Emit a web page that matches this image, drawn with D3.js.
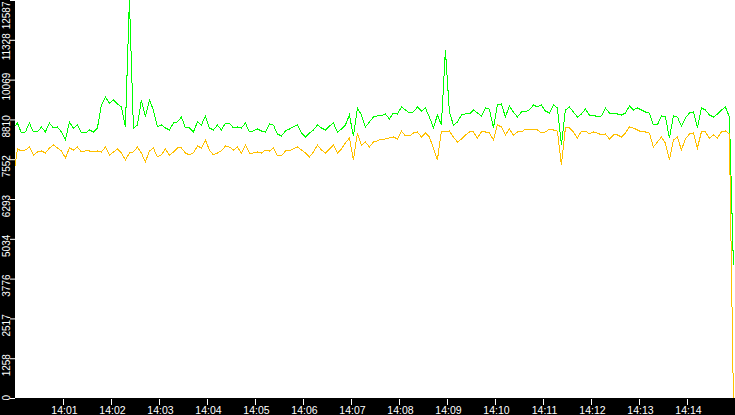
<!DOCTYPE html>
<html lang="en">
<head>
    <meta charset="UTF-8">
    <title>Rate 14:00 - 14:15</title>
    <script src="https://d3js.org/d3.v7.min.js"></script>
    <style>
        body {
            margin: 0;
            background: #000;
        }
        svg {
            display: block;
        }
        .axis text {
            font-family: "Liberation Sans", Arial, sans-serif;
            font-size: 10.5px;
            fill: #fff;
        }
        .axis.left text {
            font-size: 10px;
        }
        .axis line {
            stroke: #fff;
        }
    </style>
</head>
<body>

    <div id="container"></div>

    <script>

        // sample times: first sample 2 s before 14:00, one every 5 s
        const firstSample = new Date(2024, 0, 1, 14, 0, -2);
        const stepSeconds = 5;

        const xTickLabels = ["14:01", "14:02", "14:03", "14:04", "14:05", "14:06", "14:07",
            "14:08", "14:09", "14:10", "14:11", "14:12", "14:13", "14:14"];

        const yTickLabels = [0, 1258, 2517, 3776, 5034, 6293, 7552, 8810, 10069, 11328, 12587];

        // green series
        const greenValues = [
            8539, 8697, 8381, 8413, 8697, 8413, 8413, 8571, 8413, 8697,
            8539, 8571, 8413, 8160, 8729, 8539, 8634, 8381, 8381, 8476,
            8413, 8539, 9266, 9519, 9330, 9425, 9298, 9203, 8571, 12587,
            8539, 8634, 9425, 8887, 9425, 9108, 8571, 8634, 8539, 8476,
            8697, 8729, 8887, 8539, 8539, 8413, 8729, 8634, 8919, 8539,
            8476, 8634, 8476, 8697, 8697, 8539, 8571, 8539, 8697, 8413,
            8444, 8507, 8444, 8413, 8666, 8634, 8349, 8286, 8444, 8507,
            8571, 8634, 8381, 8254, 8381, 8476, 8634, 8539, 8476, 8602,
            8697, 8413, 8507, 8634, 8950, 8286, 9172, 8950, 8571, 8729,
            8887, 8919, 8919, 8982, 8824, 9013, 8982, 9203, 9108, 9013,
            9045, 9203, 9077, 9172, 8887, 8539, 8950, 8634, 11006, 9045,
            8634, 8729, 8950, 8982, 8982, 9108, 9013, 8919, 9172, 9140,
            8539, 9266, 9298, 8887, 9235, 9045, 8887, 9045, 9045, 9108,
            9266, 9203, 9266, 9077, 9013, 9266, 9172, 8001, 9108, 9203,
            9045, 8887, 8982, 9140, 8950, 8950, 8887, 8919, 9172, 9013,
            9013, 8982, 8950, 9013, 9235, 9108, 9172, 9108, 9045, 9013,
            8634, 8634, 8919, 8887, 8223, 8919, 8887, 8602, 8855, 9013,
            9045, 8539, 9172, 9108, 8950, 8887, 8982, 9108, 9203, 8887,
            4206
        ];

        // yellow series
        const yellowValues = [
            6958, 7875, 7812, 7843, 7938, 7685, 7780, 7812, 7748, 7907,
            8001, 7907, 7812, 7590, 7907, 7843, 7938, 7780, 7812, 7812,
            7780, 7812, 7780, 7938, 7685, 7780, 7875, 7748, 7527, 7748,
            7780, 7938, 7748, 7464, 7812, 7907, 7622, 7685, 7875, 7685,
            7780, 7907, 7907, 7748, 7685, 7748, 7970, 7907, 8160, 7843,
            7685, 7748, 7812, 7970, 7938, 7843, 7938, 7748, 8001, 7748,
            7748, 7780, 7748, 7843, 7812, 7907, 7654, 7654, 7812, 7812,
            7875, 7938, 7843, 7748, 7622, 7780, 8001, 7843, 7748, 7875,
            8001, 7748, 7875, 8065, 8223, 7527, 8381, 8001, 8096, 7938,
            8096, 8128, 8191, 8191, 8223, 8254, 8191, 8444, 8286, 8286,
            8381, 8413, 8254, 8381, 8254, 7907, 7527, 8444, 8413, 8444,
            8254, 8096, 8191, 8318, 8413, 8413, 8223, 8413, 8413, 8381,
            8160, 8634, 8571, 8318, 8507, 8318, 8413, 8413, 8507, 8476,
            8476, 8476, 8381, 8413, 8507, 8476, 8444, 7369, 8539, 8539,
            8413, 8223, 8444, 8444, 8349, 8413, 8381, 8318, 8349, 8191,
            8318, 8318, 8254, 8381, 8571, 8539, 8476, 8413, 8413, 8381,
            7938, 8096, 8254, 8065, 7527, 8160, 8254, 7843, 8191, 8349,
            8381, 7907, 8413, 8413, 8223, 8318, 8223, 8413, 8444, 8349,
            0
        ];

        const width = 735;
        const height = 415;
        const margin_left = 15;
        const plot_bottom = 398;

        const parseTick = d3.timeParse("%H:%M");
        function dayTime(label) {
            const t = parseTick(label);
            return new Date(2024, 0, 1, t.getHours(), t.getMinutes(), 0);
        }

        const times = greenValues.map((v, i) => new Date(+firstSample + i * stepSeconds * 1000));

        const svg = d3.select('#container').append('svg')
            .attr('width', width)
            .attr('height', height);

        // black frame, white plot area
        svg.append('rect')
            .attr('width', width)
            .attr('height', height)
            .attr('fill', '#000');

        svg.append('rect')
            .attr('x', margin_left)
            .attr('y', 0)
            .attr('width', width - margin_left)
            .attr('height', plot_bottom)
            .attr('fill', '#fff');

        const x = d3.scaleTime()
            .domain([new Date(2024, 0, 1, 14, 0, 0), new Date(2024, 0, 1, 14, 15, 0)])
            .range([margin_left, width]);

        const y = d3.scaleLinear()
            .domain([0, 12587])
            .range([plot_bottom, 0]);

        svg.append('clipPath')
            .attr('id', 'plot-clip')
            .append('rect')
            .attr('x', margin_left)
            .attr('y', 0)
            .attr('width', width - margin_left)
            .attr('height', plot_bottom + 1);

        const line = d3.line()
            .x((d, i) => x(times[i]))
            .y(d => y(d));

        const plot = svg.append('g').attr('clip-path', 'url(#plot-clip)');

        plot.append('path')
            .datum(greenValues)
            .attr('d', line)
            .attr('fill', 'none')
            .attr('stroke', '#00ff00')
            .attr('stroke-width', 1)
            .attr('shape-rendering', 'crispEdges');

        plot.append('path')
            .datum(yellowValues)
            .attr('d', line)
            .attr('fill', 'none')
            .attr('stroke', '#ffc000')
            .attr('stroke-width', 1)
            .attr('shape-rendering', 'crispEdges');

        // x axis
        const xAxis = d3.axisBottom(x)
            .tickValues(xTickLabels.map(dayTime))
            .tickFormat(d3.timeFormat("%H:%M"))
            .tickSize(6);

        const gx = svg.append('g')
            .attr('class', 'axis bottom')
            .attr('transform', `translate(0,${plot_bottom + 1})`)
            .call(xAxis);
        gx.select('.domain').remove();
        gx.selectAll('text')
            .attr('x', 1)
            .attr('y', 15)
            .attr('dy', null);

        // y axis, rotated labels (the end labels are kept inside the frame)
        const yMin = yTickLabels[0];
        const yMax = yTickLabels[yTickLabels.length - 1];

        const yAxis = d3.axisLeft(y)
            .tickValues(yTickLabels)
            .tickFormat(d => d)
            .tickSize(5);

        const gy = svg.append('g')
            .attr('class', 'axis left')
            .attr('transform', `translate(${margin_left},0)`)
            .call(yAxis);
        gy.select('.domain').remove();
        gy.selectAll('text')
            .attr('x', null)
            .attr('dy', null)
            .attr('text-anchor', d => d === yMin ? 'start' : (d === yMax ? 'end' : 'middle'))
            .attr('transform', d => {
                if (d === yMin) return 'translate(-5.5,2) rotate(-90)';
                if (d === yMax) return 'translate(-5.5,1) rotate(-90)';
                return 'translate(-5.5,6.5) rotate(-90)';
            });

    </script>

</body>
</html>
